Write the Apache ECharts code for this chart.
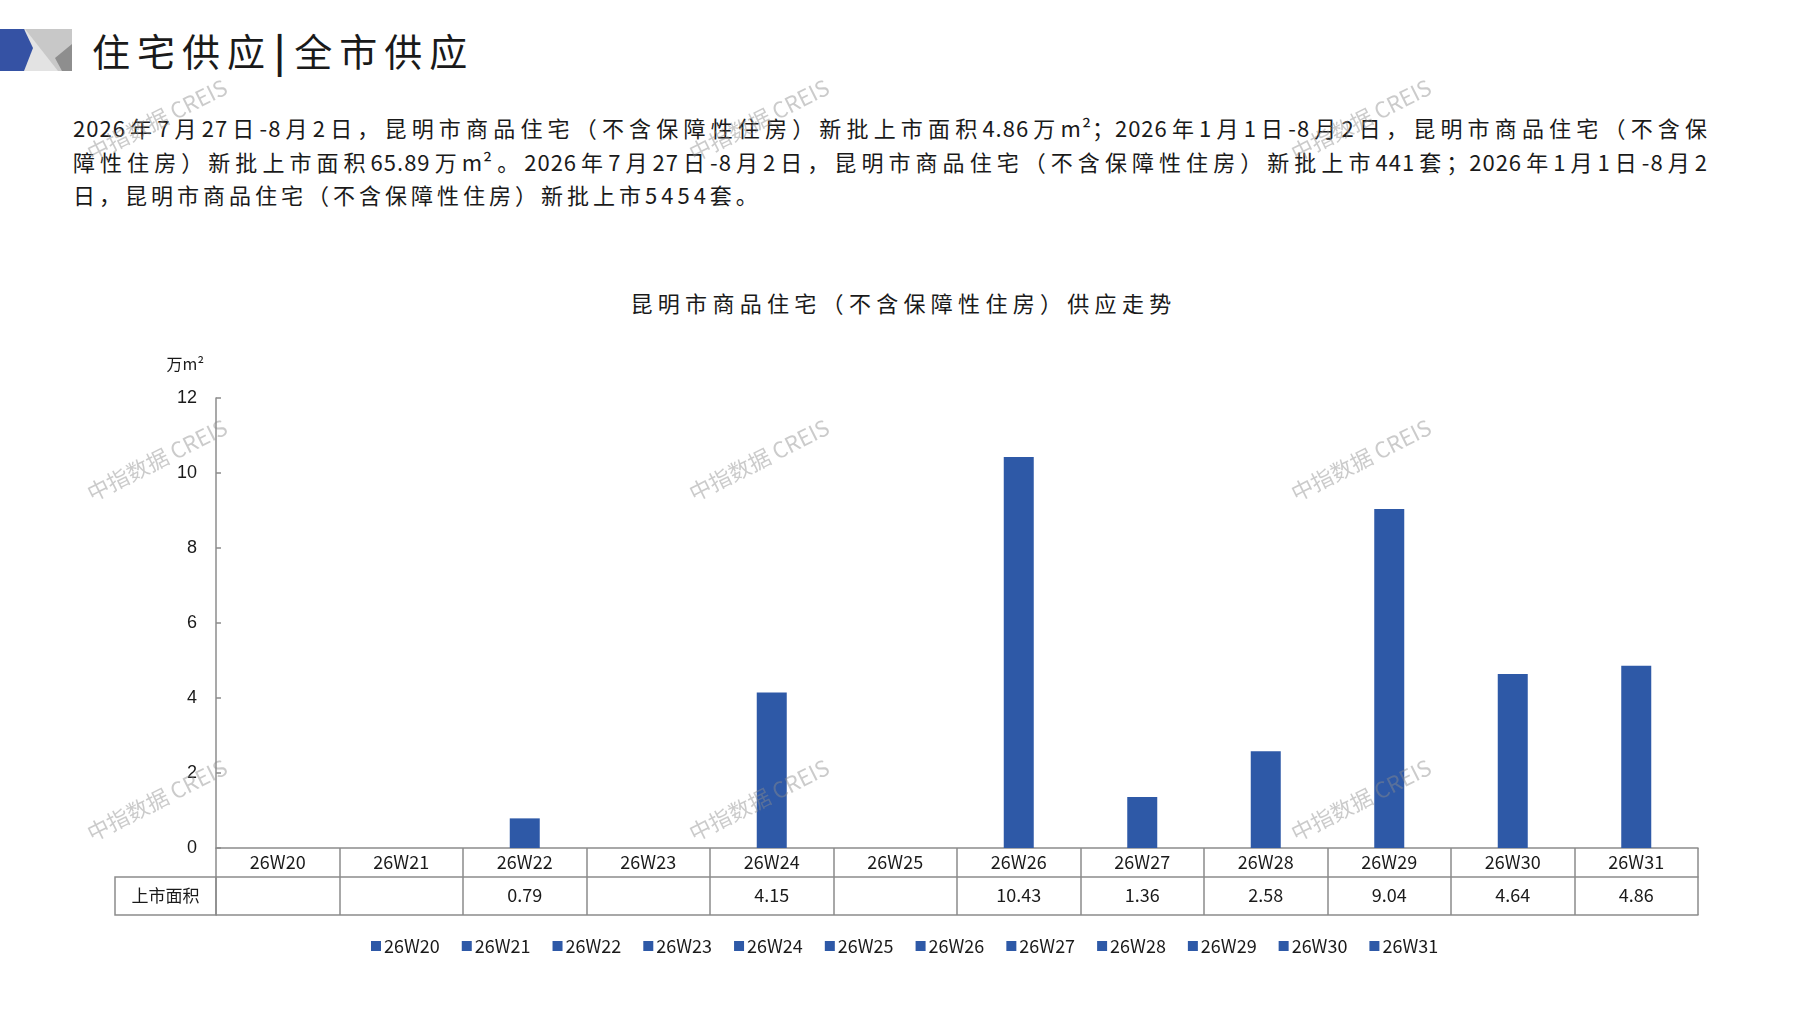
<!DOCTYPE html>
<html>
<head>
<meta charset="utf-8">
<script src="https://cdn.jsdelivr.net/npm/echarts@6/dist/echarts.min.js"></script>
<style>
  body { margin: 0; background: #fff; font-family: "Noto Sans CJK SC", sans-serif; }
  #main { position: absolute; left: 0; top: 0; width: 1797px; height: 1010px; z-index: 1; }
  .txt { position: absolute; color: #1a1a1a; white-space: nowrap; z-index: 0; }
  #head { left: 92px; top: 22px; font-size: 38px; line-height: 56px; letter-spacing: 7px; }
  #head .bar { font-weight: bold; margin: 0 2px; }
  #para { left: 73px; top: 111px; width: 1635px; font-size: 22px; line-height: 33.5px; }
  #para .j { text-align: justify; text-align-last: justify; letter-spacing: 1px; }
  #para .l { letter-spacing: 4px; }
  #ctitle { left: 0; top: 286px; width: 1797px; text-align: center; font-size: 22px; line-height: 32px; letter-spacing: 5.3px; padding-left: 5px; }
</style>
</head>
<body>
<div class="txt" id="head">住宅供应<span class="bar">|</span>全市供应</div>
<div class="txt" id="para">
  <div class="j">2026年7月27日-8月2日，昆明市商品住宅（不含保障性住房）新批上市面积4.86万m²；2026年1月1日-8月2日，昆明市商品住宅（不含保</div>
  <div class="j">障性住房）新批上市面积65.89万m²。2026年7月27日-8月2日，昆明市商品住宅（不含保障性住房）新批上市441套；2026年1月1日-8月2</div>
  <div class="l">日，昆明市商品住宅（不含保障性住房）新批上市5454套。</div>
</div>
<div class="txt" id="ctitle">昆明市商品住宅（不含保障性住房）供应走势</div>
<div id="main"></div>
<script>
// 数据
const weeks = ['26W20', '26W21', '26W22', '26W23', '26W24', '26W25', '26W26', '26W27', '26W28', '26W29', '26W30', '26W31'];
const supplyArea = [null, null, 0.79, null, 4.15, null, 10.43, 1.36, 2.58, 9.04, 4.64, 4.86];
const rowName = '上市面积';
const yMin = 0, yMax = 12, yStep = 2;

// 版面
const W = 1797, H = 1010;
const gridLeft = 216, gridRight = 1698, gridTop = 398, gridBottom = 848;
const rowH1 = 29, rowH2 = 38;
const tableLeft = 115;
const blue = '#2E59A7';
const lineGray = '#8c8c8c';

const chart = echarts.init(document.getElementById('main'));

const tableText = supplyArea.map(v => v == null ? '' : v.toFixed(2));

// 每周一个系列，图例才会有12项
const series = weeks.map((w, i) => ({
  name: w,
  type: 'bar',
  stack: 'all',
  barWidth: 30,
  itemStyle: { color: blue },
  data: supplyArea.map((v, j) => (j === i && v != null) ? v : '-')
}));

// 水印
const wmX = [157, 759, 1361], wmY = [120, 460, 800];
const marks = [];
wmY.forEach(y => wmX.forEach(x => {
  marks.push({
    type: 'text', x: x, y: y, rotation: 0.466, z: 100, silent: true,
    style: {
      text: '中指数据 CREIS', font: '22px "Noto Sans CJK SC"',
      fill: 'rgba(140,140,140,0.45)',
      align: 'center', verticalAlign: 'middle',
      textAlign: 'center', textVerticalAlign: 'middle'
    }
  });
}));

const option = {
  animation: false,
  grid: { left: gridLeft, right: W - gridRight, top: gridTop, bottom: H - gridBottom, containLabel: false },
  legend: {
    left: 366, top: 932,
    itemWidth: 10, itemHeight: 10, itemGap: 22,
    icon: 'rect',
    textStyle: { fontSize: 18, color: '#1a1a1a', fontFamily: 'Noto Sans CJK SC', padding: [0, 0, 0, -2] },
    data: weeks
  },
  xAxis: [
    {
      type: 'category', data: weeks, position: 'bottom',
      axisLine: { lineStyle: { color: lineGray, width: 1.5 } },
      axisTick: { show: true, interval: 0, length: rowH1 + rowH2, lineStyle: { color: lineGray, width: 1.5 } },
      axisLabel: { interval: 0, fontSize: 18, color: '#1a1a1a', margin: 5, fontFamily: 'Noto Sans CJK SC' }
    },
    {
      type: 'category', data: weeks, position: 'bottom', offset: rowH1,
      axisLine: { lineStyle: { color: lineGray, width: 1.5 } },
      axisTick: { show: false },
      axisLabel: { interval: 0, fontSize: 18, color: '#1a1a1a', margin: 9, fontFamily: 'Noto Sans CJK SC',
        formatter: (v, i) => tableText[i] }
    },
    {
      type: 'category', data: weeks, position: 'bottom', offset: rowH1 + rowH2,
      axisLine: { lineStyle: { color: lineGray, width: 1.5 } },
      axisTick: { show: false },
      axisLabel: { show: false }
    }
  ],
  yAxis: {
    type: 'value', min: yMin, max: yMax, interval: yStep,
    name: '万m²', nameLocation: 'end', nameGap: 26,
    nameTextStyle: { fontSize: 16, color: '#1a1a1a', align: 'right', padding: [0, 12, 0, 0], fontFamily: 'Noto Sans CJK SC' },
    axisLine: { show: true, lineStyle: { color: lineGray, width: 1.5 } },
    axisTick: { show: true, inside: true, length: 5, lineStyle: { color: lineGray, width: 1.5 } },
    axisLabel: { fontSize: 18, color: '#1a1a1a', margin: 19, fontFamily: 'Liberation Sans' },
    splitLine: { show: false }
  },
  graphic: [
    // 左上角标志
    { type: 'rect', shape: { x: 23, y: 29, width: 49, height: 42 }, style: { fill: '#c8c8c8' } },
    { type: 'polygon', shape: { points: [[25, 29], [58, 71], [23, 71]] }, style: { fill: '#e3e3e3' } },
    { type: 'polygon', shape: { points: [[72, 44], [55, 58], [62, 71], [72, 71]] }, style: { fill: '#8e8e8e' } },
    { type: 'polygon', shape: { points: [[0, 29], [24, 29], [33, 48], [24, 71], [0, 71]] }, style: { fill: '#3552a4' } },
    // 表格行标题
    { type: 'rect', shape: { x: tableLeft, y: gridBottom + rowH1, width: gridLeft - tableLeft, height: rowH2 },
      style: { fill: 'none', stroke: lineGray, lineWidth: 1.5 } },
    { type: 'text', x: (tableLeft + gridLeft) / 2, y: gridBottom + rowH1 + rowH2 / 2,
      style: { text: rowName, font: '17px "Noto Sans CJK SC"', fill: '#1a1a1a',
        align: 'center', verticalAlign: 'middle', textAlign: 'center', textVerticalAlign: 'middle' } }
  ].concat(marks),
  series: series
};

chart.setOption(option);
</script>
</body>
</html>
